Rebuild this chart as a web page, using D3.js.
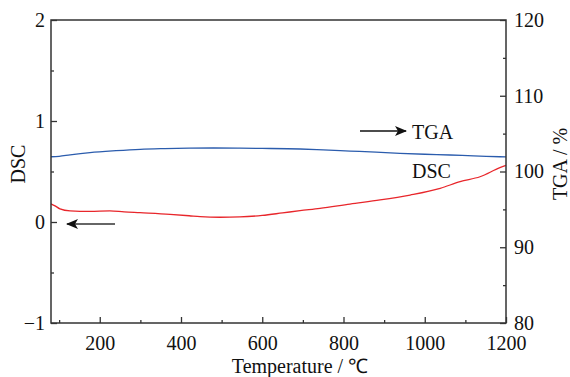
<!doctype html>
<html>
<head>
<meta charset="utf-8"/>
<title>DSC / TGA</title>
<script src="https://d3js.org/d3.v7.min.js"></script>
<style>
body{margin:0;background:#fff;}
text{font-family:"Liberation Serif","Times New Roman",serif;font-size:20px;fill:#111;}
</style>
</head>
<body>
<script>
// temperature readings (degC) and values
var tgaTemp = [80,100,127,176,240,300,360,420,480,545,600,693,750,816,880,939,1000,1062,1120,1185,1200];
var tgaVal  = [101.95,102.0,102.2,102.5,102.75,102.93,103.02,103.08,103.1,103.08,103.05,102.97,102.85,102.7,102.55,102.4,102.28,102.18,102.06,101.95,101.92];

var dscTemp = [80,90,102,127,176,225,260,299,373,420,447,496,545,600,650,693,742,816,890,964,1038,1087,1136,1185,1200];
var dscVal  = [0.18,0.16,0.13,0.11,0.105,0.11,0.10,0.092,0.076,0.062,0.053,0.047,0.05,0.065,0.09,0.112,0.135,0.178,0.218,0.267,0.333,0.40,0.448,0.538,0.56];

var xTicks = [200,400,600,800,1000,1200];
var xMinor = [100,300,500,700,900,1100];
var leftTicks = [-1,0,1,2];
var leftMinor = [-0.5,0.5,1.5];
var rightTicks = [80,90,100,110,120];
var rightMinor = [85,95,105,115];

var W = 570, H = 377;
var L = 51, R = 506, T = 20, B = 323;

var svg = d3.select("body").append("svg")
    .attr("width", W).attr("height", H);

var x = d3.scaleLinear().domain([80,1200]).range([L,R]);
var yL = d3.scaleLinear().domain([-1,2]).range([B,T]);
var yR = d3.scaleLinear().domain([80,120]).range([B,T]);

var fmt = function(d){ return d < 0 ? "\u2212" + Math.abs(d) : String(d); };

// curves
var lineT = d3.line().x(function(d){return x(d[0])}).y(function(d){return yR(d[1])}).curve(d3.curveMonotoneX);
var lineD = d3.line().x(function(d){return x(d[0])}).y(function(d){return yL(d[1])}).curve(d3.curveMonotoneX);

svg.append("path")
    .datum(d3.zip(tgaTemp, tgaVal))
    .attr("d", lineT)
    .attr("fill","none").attr("stroke","#2b5cad").attr("stroke-width",1.3);

svg.append("path")
    .datum(d3.zip(dscTemp, dscVal))
    .attr("d", lineD)
    .attr("fill","none").attr("stroke","#e8262b").attr("stroke-width",1.3);

// frame
svg.append("rect")
    .attr("x",L).attr("y",T).attr("width",R-L).attr("height",B-T)
    .attr("fill","none").attr("stroke","#333").attr("stroke-width",1.5);

function styleAxis(g){
  g.select(".domain").remove();
  g.selectAll("line").attr("stroke","#333").attr("stroke-width",1.3);
  g.selectAll("text").attr("font-family",null).attr("font-size",null).attr("fill","#111");
}

svg.append("g").attr("transform","translate(0,"+B+")")
    .call(d3.axisBottom(x).tickValues(xTicks).tickFormat(fmt).tickSize(-6).tickPadding(13))
    .call(styleAxis);
svg.append("g").attr("transform","translate(0,"+B+")")
    .call(d3.axisBottom(x).tickValues(xMinor).tickSize(-3).tickFormat(""))
    .call(styleAxis);

svg.append("g").attr("transform","translate("+L+",0)")
    .call(d3.axisLeft(yL).tickValues(leftTicks).tickFormat(fmt).tickSize(-6).tickPadding(6))
    .call(styleAxis);
svg.append("g").attr("transform","translate("+L+",0)")
    .call(d3.axisLeft(yL).tickValues(leftMinor).tickSize(-3).tickFormat(""))
    .call(styleAxis);

svg.append("g").attr("transform","translate("+R+",0)")
    .call(d3.axisRight(yR).tickValues(rightTicks).tickFormat(fmt).tickSize(-6).tickPadding(8))
    .call(styleAxis);
svg.append("g").attr("transform","translate("+R+",0)")
    .call(d3.axisRight(yR).tickValues(rightMinor).tickSize(-3).tickFormat(""))
    .call(styleAxis);

// axis titles
svg.append("text").attr("x",300).attr("y",373).attr("text-anchor","middle").text("Temperature / \u2103");
svg.append("text").attr("transform","translate(25,164) rotate(-90)").attr("text-anchor","middle").text("DSC");
svg.append("text").attr("transform","translate(567,164) rotate(-90)").attr("text-anchor","middle").text("TGA / %");

// arrows and labels
var defs = svg.append("defs");
defs.append("marker").attr("id","ah").attr("viewBox","0 0 12 10")
    .attr("refX",11).attr("refY",5).attr("markerWidth",12).attr("markerHeight",10)
    .attr("markerUnits","userSpaceOnUse").attr("orient","auto")
  .append("path").attr("d","M0,0 L12,5 L0,10 L3,5 Z").attr("fill","#111");

svg.append("line").attr("x1",360).attr("x2",406).attr("y1",131).attr("y2",131)
    .attr("stroke","#111").attr("stroke-width",1.5).attr("marker-end","url(#ah)");
svg.append("text").attr("x",412).attr("y",139).text("TGA");
svg.append("text").attr("x",412).attr("y",178).text("DSC");

svg.append("line").attr("x1",115).attr("x2",67).attr("y1",yL(0)+2).attr("y2",yL(0)+2)
    .attr("stroke","#333").attr("stroke-width",1.5).attr("marker-end","url(#ah)");
</script>
</body>
</html>
